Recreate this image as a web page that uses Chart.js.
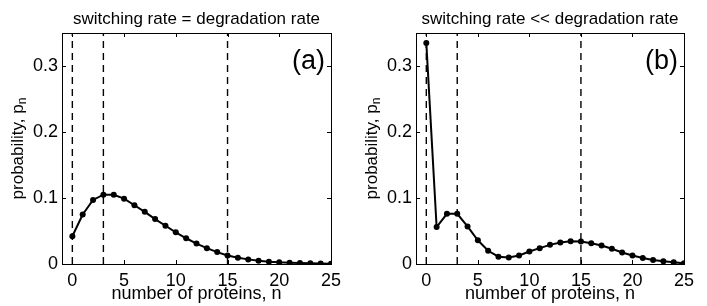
<!DOCTYPE html>
<html lang="en">
<head>
    <meta charset="UTF-8">
    <title>Protein number distributions</title>
    <script src="https://cdn.jsdelivr.net/npm/chart.js"></script>
    <style>
        body { margin: 0; background: #fff; }
        .panel { position: absolute; top: 0; height: 306px; }
    </style>
</head>
<body>
    <div class="panel" style="left:0;width:354px"><canvas id="chartA" width="354" height="306"></canvas></div>
    <div class="panel" style="left:354px;width:353px"><canvas id="chartB" width="353" height="306"></canvas></div>

    <script>
        // data
        const proteinCounts = [0, 1, 2, 3, 4, 5, 6, 7, 8, 9, 10, 11, 12, 13, 14, 15, 16, 17, 18, 19, 20, 21, 22, 23, 24, 25];
        const probEqual = [0.042, 0.075, 0.097, 0.105, 0.105, 0.099, 0.089, 0.079, 0.068, 0.058, 0.048, 0.039, 0.031, 0.024,
            0.018, 0.013, 0.0096, 0.007, 0.005, 0.0035, 0.0025, 0.002, 0.0015, 0.001, 0.0007, 0.0005];
        const probSlow = [0.335, 0.056, 0.076, 0.076, 0.057, 0.036, 0.020, 0.011, 0.010, 0.013, 0.019, 0.024, 0.029, 0.0325,
            0.0345, 0.034, 0.0315, 0.028, 0.023, 0.0175, 0.013, 0.009, 0.006, 0.004, 0.0025, 0.001];
        const markerLines = [0, 3, 15];
        const xTicks = [0, 5, 10, 15, 20, 25];
        const yTicks = [0, 0.1, 0.2, 0.3];
        const xRange = [-1, 25];
        const yRange = [0, 0.35];

        const FONT = "'Liberation Sans', Arial, Helvetica, sans-serif";

        // box + inward tick marks, title, y label with subscript, panel tag
        const matlabAxes = {
            id: 'matlabAxes',
            afterDraw(chart, args, opts) {
                const ctx = chart.ctx;
                const a = chart.chartArea;
                const xs = chart.scales.x, ys = chart.scales.y;
                const len = 4;
                ctx.save();
                ctx.strokeStyle = '#000';
                ctx.lineWidth = 1;
                ctx.beginPath();
                xTicks.forEach(v => {
                    const px = Math.round(xs.getPixelForValue(v)) + 0.5;
                    ctx.moveTo(px, a.bottom); ctx.lineTo(px, a.bottom - len);
                    ctx.moveTo(px, a.top); ctx.lineTo(px, a.top + len);
                });
                yTicks.forEach(v => {
                    const py = Math.round(ys.getPixelForValue(v)) + 0.5;
                    ctx.moveTo(a.left, py); ctx.lineTo(a.left + len, py);
                    ctx.moveTo(a.right, py); ctx.lineTo(a.right - len, py);
                });
                ctx.stroke();
                ctx.strokeRect(Math.round(a.left) + 0.5, Math.round(a.top) + 0.5,
                    Math.round(a.right - a.left), Math.round(a.bottom - a.top));

                // title over the axes box
                ctx.fillStyle = '#000';
                ctx.font = '17px ' + FONT;
                ctx.textAlign = 'center';
                ctx.textBaseline = 'alphabetic';
                ctx.fillText(opts.title, (a.left + a.right) / 2, 24);

                // y axis label: probability, p_n
                ctx.translate(18, (a.top + a.bottom) / 2);
                ctx.rotate(-Math.PI / 2);
                ctx.textBaseline = 'middle';
                const main = 'probability, p';
                ctx.font = '17px ' + FONT;
                const w1 = ctx.measureText(main).width;
                ctx.font = '12px ' + FONT;
                const w2 = ctx.measureText('n').width;
                const start = -(w1 + w2) / 2;
                ctx.font = '17px ' + FONT;
                ctx.textAlign = 'left';
                ctx.fillText(main, start, 0);
                ctx.font = '12px ' + FONT;
                ctx.fillText('n', start + w1, 5);
                ctx.restore();

                ctx.save();
                ctx.fillStyle = '#000';
                ctx.font = '27px ' + FONT;
                ctx.textAlign = 'right';
                ctx.textBaseline = 'alphabetic';
                ctx.fillText(opts.tag, a.right - 6, a.top + 36);
                ctx.restore();
            }
        };

        function makePanel(id, probs, title, tag) {
            const ctx = document.getElementById(id).getContext('2d');
            const dashed = markerLines.map(v => ({
                data: [{ x: v, y: yRange[0] }, { x: v, y: yRange[1] }],
                borderColor: '#000',
                borderWidth: 1.4,
                borderDash: [7, 5],
                pointRadius: 0,
                fill: false
            }));
            return new Chart(ctx, {
                type: 'line',
                data: {
                    datasets: [{
                        data: proteinCounts.map((n, i) => ({ x: n, y: probs[i] })),
                        borderColor: '#000',
                        backgroundColor: '#000',
                        borderWidth: 2,
                        pointRadius: 3,
                        pointBorderWidth: 0,
                        tension: 0,
                        fill: false
                    }].concat(dashed)
                },
                options: {
                    responsive: false,
                    animation: false,
                    devicePixelRatio: 1,
                    layout: { padding: { left: 0, right: 23, top: 33, bottom: 0 } },
                    plugins: {
                        legend: { display: false },
                        tooltip: { enabled: false },
                        title: { display: false },
                        matlabAxes: { tag: tag, title: title }
                    },
                    scales: {
                        x: {
                            type: 'linear',
                            min: xRange[0],
                            max: xRange[1],
                            grid: { display: false, drawTicks: false },
                            border: { display: false },
                            afterBuildTicks: s => { s.ticks = xTicks.map(v => ({ value: v })); },
                            afterFit: s => { s.height = 42; },
                            ticks: {
                                color: '#000',
                                font: { family: FONT, size: 18 },
                                padding: 6,
                                maxRotation: 0
                            },
                            title: {
                                display: true,
                                text: 'number of proteins, n',
                                color: '#000',
                                font: { family: FONT, size: 18 },
                                padding: { top: 0, bottom: 1 }
                            }
                        },
                        y: {
                            type: 'linear',
                            min: yRange[0],
                            max: yRange[1],
                            grid: { display: false, drawTicks: false },
                            border: { display: false },
                            afterBuildTicks: s => { s.ticks = yTicks.map(v => ({ value: v })); },
                            afterFit: s => { s.width = 62; },
                            ticks: {
                                color: '#000',
                                font: { family: FONT, size: 18 },
                                padding: 4,
                                callback: v => v === 0 ? '0' : v.toFixed(1)
                            }
                        }
                    }
                },
                plugins: [matlabAxes]
            });
        }

        makePanel('chartA', probEqual, 'switching rate = degradation rate', '(a)');
        makePanel('chartB', probSlow, 'switching rate << degradation rate', '(b)');
    </script>
</body>
</html>
